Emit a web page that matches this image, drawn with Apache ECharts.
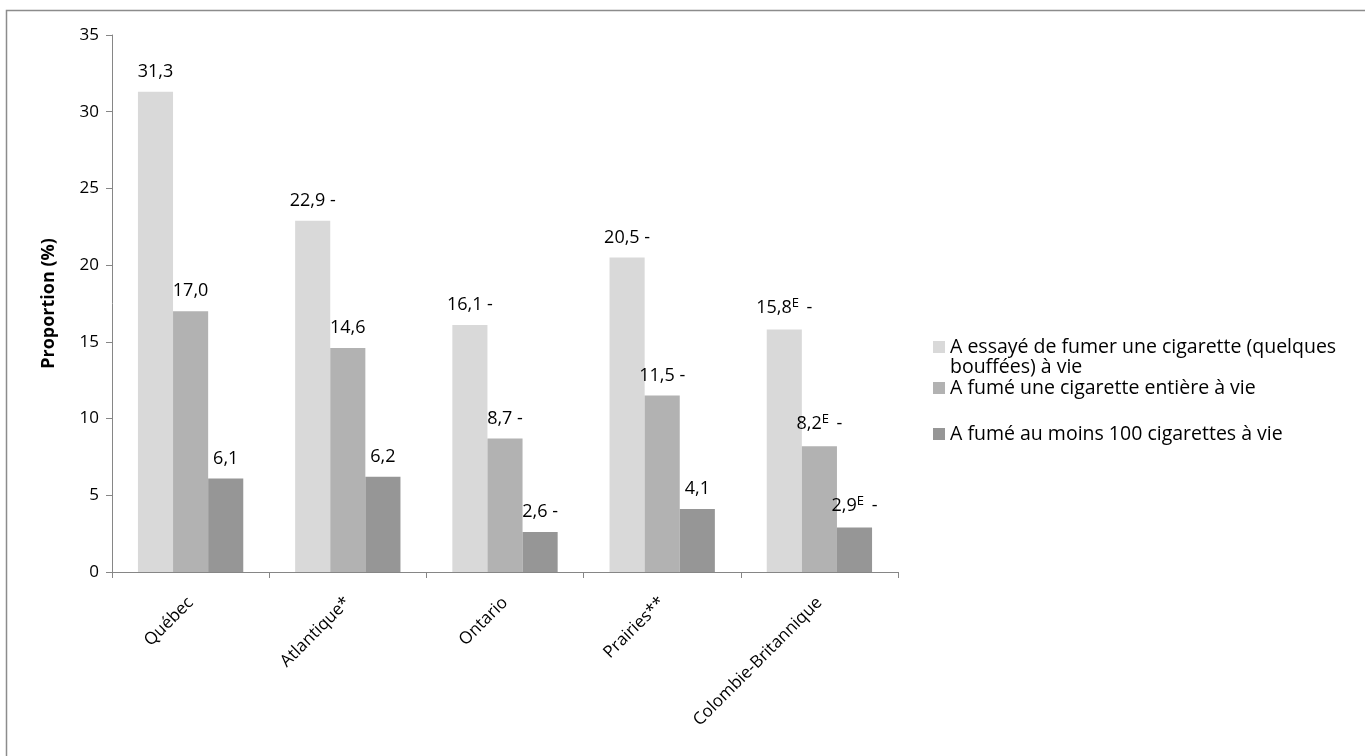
<!DOCTYPE html>
<html><head><meta charset="utf-8">
<script src="https://cdn.jsdelivr.net/npm/echarts@6/dist/echarts.min.js"></script>
<style>html,body{margin:0;padding:0;background:#fff}#c{width:1365px;height:756px}</style>
</head><body><div id="c"></div>
<script>
const categories = ['Québec', 'Atlantique*', 'Ontario', 'Prairies**', 'Colombie-Britannique'];
const seriesNames = ['A essayé de fumer une cigarette (quelques\nbouffées) à vie', 'A fumé une cigarette entière à vie', 'A fumé au moins 100 cigarettes à vie'];
const tried = [31.3, 22.9, 16.1, 20.5, 15.8];
const whole = [17.0, 14.6, 8.7, 11.5, 8.2];
const hundred = [6.1, 6.2, 2.6, 4.1, 2.9];
// E = estimate to interpret with caution ; dash = significant difference marker
const triedE = [0, 0, 0, 0, 1];
const wholeE = [0, 0, 0, 0, 1];
const hundredE = [0, 0, 0, 0, 1];
const triedDash = [0, 1, 1, 1, 1];
const wholeDash = [0, 0, 1, 1, 1];
const hundredDash = [0, 0, 1, 0, 1];
const yTicks = [0, 5, 10, 15, 20, 25, 30, 35];

const colors = ['#D9D9D9', '#B2B2B2', '#969696'];
const FONT = 'Open Sans';
const chart = echarts.init(document.getElementById('c'), null, {renderer: 'canvas'});

function mkLabel(eArr, dArr) {
  return {
    show: true, position: 'top', distance: 11,
    formatter: p => {
      const v = p.value.toFixed(1).replace('.', ',');
      let s = '{a|' + v + '}';
      if (eArr[p.dataIndex]) s += '{sup|E}';
      if (dArr[p.dataIndex]) s += '{a| -}';
      return s;
    },
    rich: {
      a: {fontFamily: FONT, fontSize: 18, color: '#000'},
      sup: {fontFamily: FONT, fontSize: 13, color: '#000', verticalAlign: 'top', padding: [0, 3, 9, 0]}
    }
  };
}

const data = [tried, whole, hundred];
const eFlags = [triedE, wholeE, hundredE];
const dFlags = [triedDash, wholeDash, hundredDash];
const firstLines = seriesNames[0].split('\n');

const LFS = 19.5;
const legendText = {fontFamily: FONT, fontSize: LFS, color: '#000', lineHeight: 20};
const legendBase = {orient: 'vertical', itemWidth: 12, itemHeight: 12, icon: 'rect', padding: 0, left: 933, textStyle: legendText};
const option = {
  animation: false,
  backgroundColor: '#fff',
  graphic: [
    {type: 'rect', shape: {x: 6.5, y: 10.5, width: 1400, height: 800}, style: {fill: 'none', stroke: '#8c8c8c', lineWidth: 1.5}},
    {type: 'text', x: 950, y: 367, style: {text: firstLines[1], font: LFS + 'px "Open Sans"', fill: '#000', verticalAlign: 'middle', align: 'left'}}
  ],
  grid: {left: 112, right: 467, top: 35, bottom: 184},
  legend: [
    Object.assign({}, legendBase, {data: [seriesNames[0]], top: 337, formatter: n => n.split('\n')[0]}),
    Object.assign({}, legendBase, {data: [seriesNames[1]], top: 378}),
    Object.assign({}, legendBase, {data: [seriesNames[2]], top: 424})
  ],
  xAxis: {
    type: 'category', data: categories,
    axisLine: {lineStyle: {color: '#868686', width: 1}},
    axisTick: {show: true, alignWithLabel: false, length: 6, lineStyle: {color: '#868686'}},
    axisLabel: {rotate: 45, fontFamily: FONT, fontSize: 17, color: '#000', margin: 28, interval: 0}
  },
  yAxis: {
    type: 'value', min: 0, max: 35, interval: 5,
    name: 'Proportion (%)', nameLocation: 'middle', nameGap: 54, nameRotate: 90,
    nameTextStyle: {fontFamily: FONT, fontSize: 18, fontWeight: 'bold', color: '#000'},
    axisLine: {show: true, lineStyle: {color: '#868686', width: 1}},
    axisTick: {show: true, length: 6, lineStyle: {color: '#868686'}},
    splitLine: {show: false},
    axisLabel: {fontFamily: FONT, fontSize: 17, color: '#000', margin: 13,
      formatter: v => yTicks.includes(v) ? String(v) : ''}
  },
  series: data.map((d, i) => ({
    name: seriesNames[i], type: 'bar', data: d,
    barGap: '0%', barCategoryGap: '33%',
    itemStyle: {color: colors[i]},
    label: mkLabel(eFlags[i], dFlags[i])
  }))
};
chart.setOption(option);
</script></body></html>
